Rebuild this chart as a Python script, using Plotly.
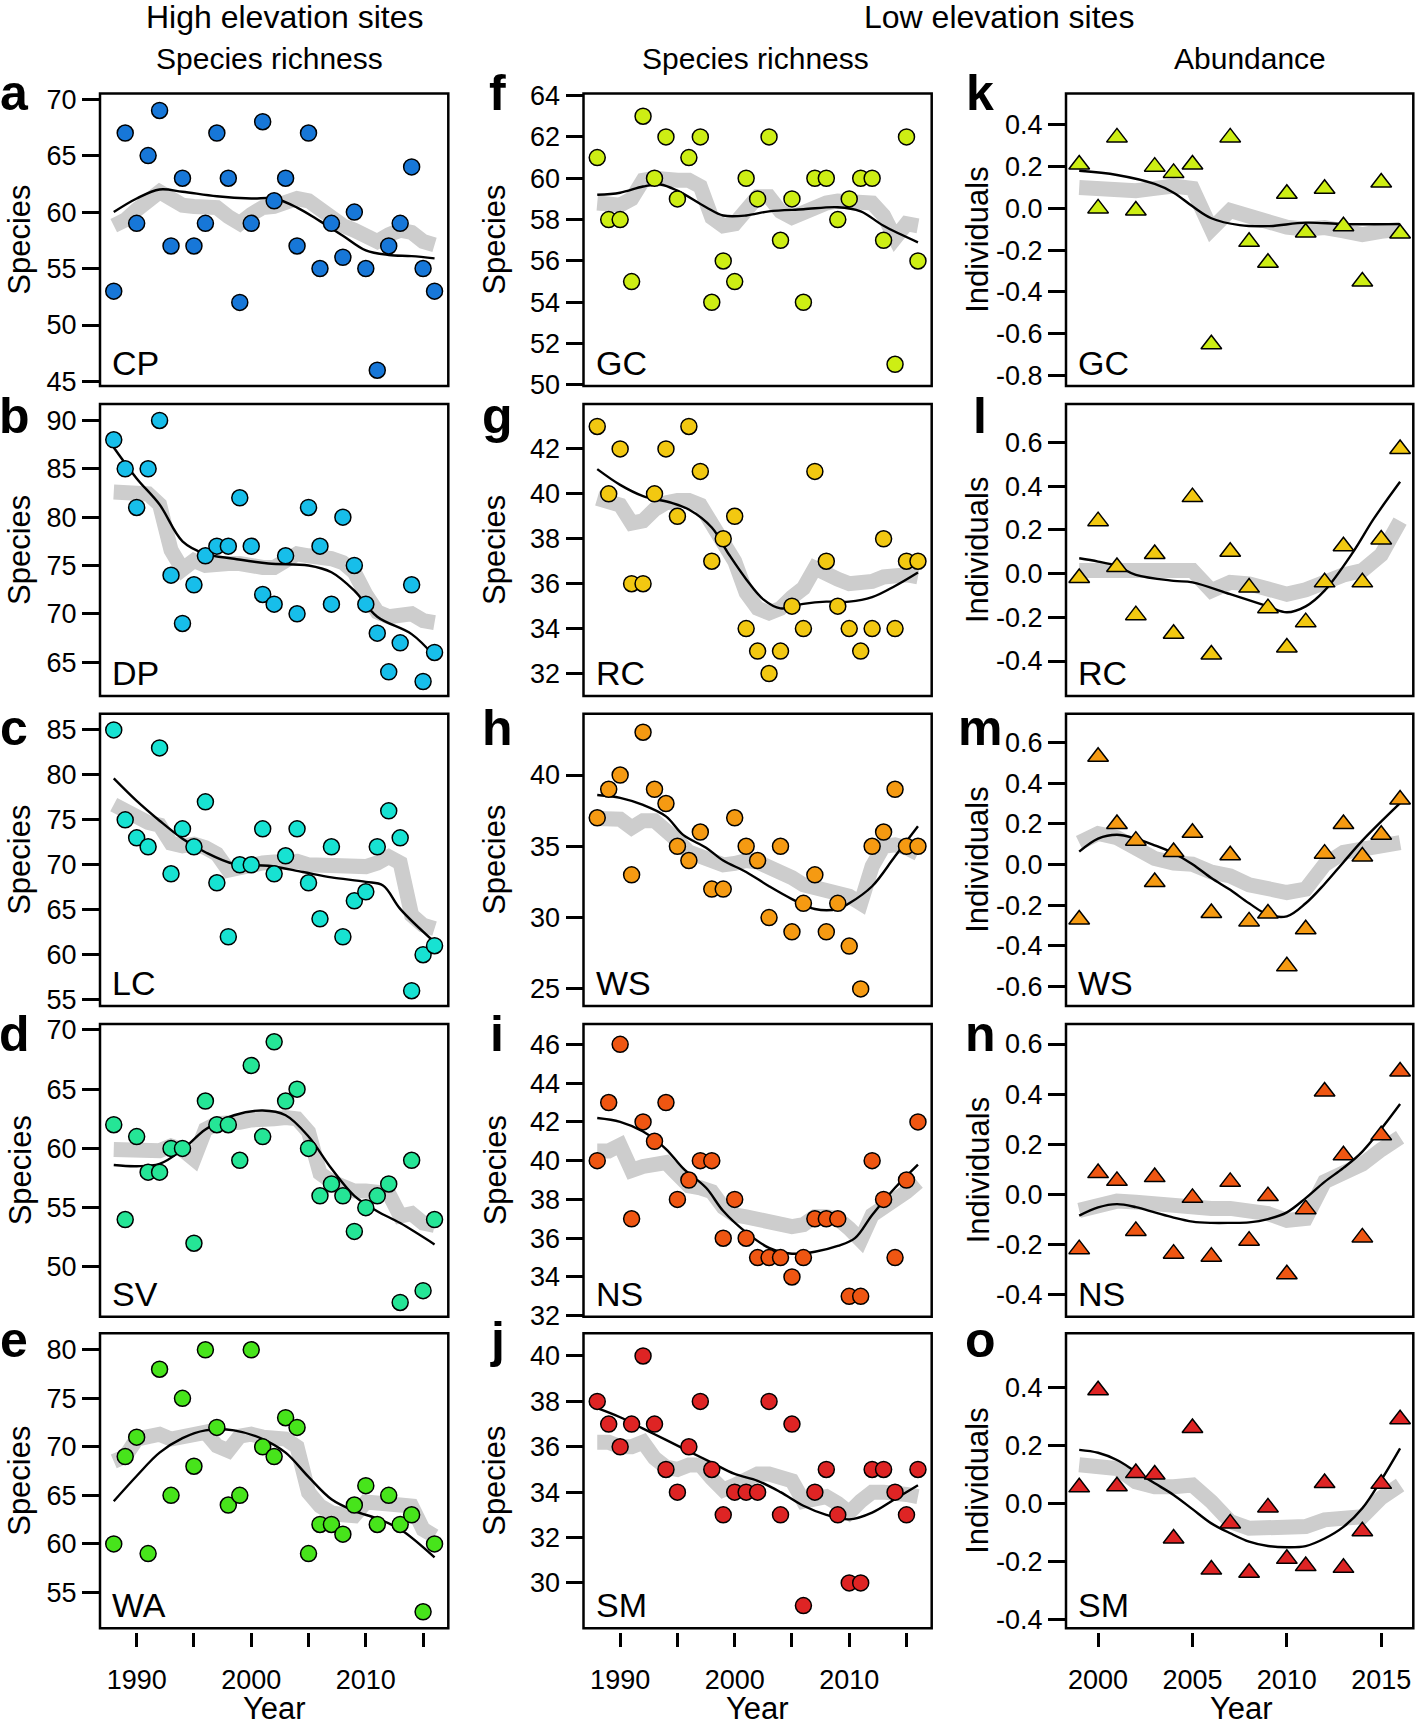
import plotly.graph_objects as go

W, H = 1415, 1727
FONT = "Liberation Sans, Arial, Helvetica, sans-serif"

# ---------------- data ----------------
years_long = list(range(1988, 2017))
years_short = list(range(1999, 2017))

# High elevation species richness
cp_pts = [53, 67, 59, 65, 69, 57, 63, 57, 59, 67, 63, 52, 59, 68, 61, 63, 57, 67, 55, 59, 56, 60, 55, 46, 57, 59, 64, 55, 53]
cp_grey = [58.8, 59.3, 60.2, 61.0, 61.8, 61.2, 60.6, 60.5, 60.5, 60.4, 59.6, 59.0, 59.8, 60.4, 60.5, 60.8, 61.2, 61.0, 60.2, 59.2, 58.8, 58.4, 58.0, 57.4, 58.0, 58.4, 58.2, 57.4, 57.1]
cp_trend_x = [1988, 1990, 1992, 1994, 1997, 2000, 2002, 2004, 2006, 2008, 2010, 2012, 2014, 2016]
cp_trend = [60.0, 61.2, 62.0, 61.8, 61.4, 61.2, 61.2, 60.4, 59.2, 57.9, 56.6, 56.2, 56.1, 55.9]

dp_pts = [88, 85, 81, 85, 90, 74, 69, 73, 76, 77, 77, 82, 77, 72, 71, 76, 70, 81, 77, 71, 80, 75, 71, 68, 64, 67, 73, 63, 66]
dp_grey = [82.6, 82.6, 82.6, 82.4, 81.3, 76.6, 74.6, 75.5, 75.0, 75.2, 75.2, 75.2, 74.8, 74.8, 74.8, 75.7, 76.2, 76.0, 76.0, 75.7, 75.3, 74.3, 72.0, 70.2, 69.7, 69.7, 70.0, 69.3, 69.1]
dp_trend_x = [1988, 1990, 1992, 1994, 1996, 1998.5, 2001.5, 2005, 2007, 2009, 2011, 2014, 2016]
dp_trend = [87.2, 84.0, 81.3, 77.5, 76.2, 75.7, 75.2, 75.0, 74.3, 72.4, 69.7, 67.9, 65.6]

lc_pts = [85, 75, 73, 72, 83, 69, 74, 72, 77, 68, 62, 70, 70, 74, 69, 71, 74, 68, 64, 72, 62, 66, 67, 72, 76, 73, 56, 60, 61]
lc_grey = [76.7, 75.9, 75.4, 74.7, 74.4, 72.4, 72.1, 72.3, 71.9, 71.2, 69.4, 69.8, 70.1, 70.2, 70.3, 70.5, 70.4, 70.0, 69.9, 69.8, 69.7, 69.6, 69.8, 70.2, 70.9, 70.2, 64.4, 63.3, 62.9]
lc_trend_x = [1988, 1990, 1992, 1994, 1996, 1998.5, 2001.5, 2004.5, 2007, 2010, 2011.5, 2013, 2016]
lc_trend = [79.6, 77.1, 74.9, 72.9, 71.4, 70.1, 69.9, 69.2, 68.6, 68.1, 67.7, 65.1, 61.4]

sv_pts = [62, 54, 61, 58, 58, 60, 60, 52, 64, 62, 62, 59, 67, 61, 69, 64, 65, 60, 56, 57, 56, 53, 55, 56, 57, 47, 59, 48, 54]
sv_grey = [59.9, 59.8, 59.7, 59.9, 59.8, 60.2, 59.9, 59.1, 61.6, 62.1, 62.0, 62.2, 62.4, 62.6, 62.5, 62.6, 62.5, 61.4, 57.9, 57.2, 56.7, 56.4, 56.4, 56.4, 56.2, 54.3, 54.5, 53.7, 53.5]
sv_trend_x = [1988, 1990, 1992, 1994, 1996, 1998.5, 2001, 2003, 2005, 2007, 2009, 2011, 2013, 2016]
sv_trend = [58.6, 58.5, 58.7, 59.9, 61.6, 62.8, 63.2, 62.8, 61.0, 58.3, 56.0, 54.7, 53.7, 51.9]

wa_pts = [60, 69, 71, 59, 78, 65, 75, 68, 80, 72, 64, 65, 80, 70, 69, 73, 72, 59, 62, 62, 61, 64, 66, 62, 65, 62, 63, 53, 60]
wa_grey = [68.5, 69.0, 70.8, 71.1, 71.3, 70.8, 71.0, 71.3, 71.5, 70.1, 69.6, 71.1, 71.3, 71.0, 70.9, 70.8, 70.0, 65.3, 63.9, 63.2, 63.0, 62.9, 64.3, 64.3, 64.2, 64.0, 63.9, 61.5, 60.8]
wa_trend_x = [1988, 1990, 1992, 1994, 1996, 1998.5, 2001, 2003, 2005, 2007, 2009, 2011, 2013, 2016]
wa_trend = [64.4, 67.0, 69.4, 70.9, 71.7, 71.7, 70.8, 69.4, 66.9, 64.6, 63.4, 62.6, 61.5, 58.6]

# Low elevation species richness
gc_pts = [61, 58, 58, 55, 63, 60, 62, 59, 61, 62, 54, 56, 55, 60, 59, 62, 57, 59, 54, 60, 60, 58, 59, 60, 60, 57, 51, 62, 56]
gc_grey = [58.8, 58.8, 58.7, 59.0, 59.9, 60.0, 59.9, 59.9, 59.9, 59.6, 58.1, 57.7, 57.8, 58.6, 59.1, 59.1, 58.4, 58.1, 58.4, 58.6, 58.8, 58.9, 58.9, 58.9, 58.8, 58.2, 57.1, 57.8, 57.7]
gc_trend_x = [1988, 1990, 1992, 1993.5, 1995, 1997.5, 1999, 2001, 2003, 2006, 2009, 2011, 2013, 2016]
gc_trend = [59.2, 59.3, 59.6, 59.7, 59.4, 58.6, 58.2, 58.2, 58.4, 58.5, 58.6, 58.4, 57.7, 56.9]

rc_pts = [43, 40, 42, 36, 36, 40, 42, 39, 43, 41, 37, 38, 39, 34, 33, 32, 33, 35, 34, 41, 37, 35, 34, 33, 34, 38, 34, 37, 37]
rc_grey = [39.8, 39.7, 39.5, 38.7, 38.8, 39.3, 39.6, 39.7, 39.7, 39.5, 38.6, 37.8, 37.0, 35.6, 34.9, 34.7, 34.9, 35.4, 35.8, 36.7, 36.4, 36.2, 36.0, 36.0, 36.1, 36.3, 36.4, 36.4, 36.3]
rc_trend_x = [1988, 1990, 1992, 1994.5, 1996, 1998, 1999.5, 2001, 2002.5, 2004, 2006, 2008, 2010, 2012, 2014, 2016]
rc_trend = [41.1, 40.4, 39.9, 39.6, 39.3, 38.5, 37.3, 36.2, 35.3, 34.9, 35.1, 35.2, 35.2, 35.4, 35.9, 36.5]

ws_pts = [37, 39, 40, 33, 43, 39, 38, 35, 34, 36, 32, 32, 37, 35, 34, 30, 35, 29, 31, 33, 29, 31, 28, 25, 35, 36, 39, 35, 35]
ws_grey = [36.95, 36.9, 36.9, 36.3, 36.8, 36.8, 36.2, 35.4, 34.6, 34.3, 34.0, 33.7, 33.8, 34.0, 33.9, 33.6, 33.2, 32.8, 32.3, 32.1, 31.9, 31.6, 31.5, 31.0, 33.6, 35.0, 35.1, 34.9, 34.5]
ws_trend_x = [1988, 1990, 1992, 1994, 1995.5, 1997.5, 1999, 2001, 2003, 2005, 2007, 2009, 2010, 2012, 2014, 2016]
ws_trend = [38.6, 38.4, 37.9, 37.1, 35.8, 34.9, 34.0, 33.2, 32.2, 31.3, 30.6, 30.6, 31.0, 32.2, 34.3, 36.4]

ns_pts = [40, 43, 46, 37, 42, 41, 43, 38, 39, 40, 40, 36, 38, 36, 35, 35, 35, 34, 35, 37, 37, 37, 33, 33, 40, 38, 35, 39, 42]
ns_grey = [40.5, 40.5, 40.8, 39.5, 39.7, 39.8, 39.9, 39.3, 38.7, 38.6, 38.4, 37.6, 37.2, 37.1, 37.0, 36.8, 36.7, 36.6, 36.7, 37.1, 37.1, 37.0, 36.5, 35.9, 37.2, 37.6, 37.8, 38.4, 38.9]
ns_trend_x = [1988, 1990, 1992, 1994, 1995.5, 1997.5, 1999, 2001, 2003, 2005, 2007, 2009, 2010.5, 2012, 2014, 2016]
ns_trend = [42.2, 42.0, 41.5, 40.6, 39.6, 38.6, 37.4, 36.3, 35.5, 35.2, 35.3, 35.6, 36.0, 37.2, 38.6, 39.8]

sm_pts = [38, 37, 36, 37, 40, 37, 35, 34, 36, 38, 35, 33, 34, 34, 34, 38, 33, 37, 29, 34, 35, 33, 30, 30, 35, 35, 34, 33, 35]
sm_grey = [36.2, 36.2, 36.0, 36.0, 36.2, 35.5, 35.1, 35.0, 35.2, 35.2, 34.6, 34.1, 34.3, 34.5, 34.8, 34.8, 34.7, 34.5, 33.6, 33.7, 33.8, 33.5, 33.1, 33.6, 34.0, 34.0, 34.0, 33.9, 33.8]
sm_trend_x = [1988, 1990, 1992, 1994, 1996, 1998, 2000, 2002, 2004, 2006, 2008, 2010, 2012, 2014, 2016]
sm_trend = [37.7, 37.3, 36.8, 36.3, 35.8, 35.3, 34.8, 34.5, 34.0, 33.4, 33.0, 32.8, 33.1, 33.7, 34.3]

# Low elevation abundance
gc_ab_pts = [0.21, 0.0, 0.34, -0.01, 0.2, 0.17, 0.21, -0.65, 0.34, -0.16, -0.26, 0.07, -0.115, 0.094, -0.085, -0.35, 0.124, -0.12]
gc_ab_grey = [0.10, 0.092, 0.08, 0.085, 0.096, 0.107, 0.096, -0.10, -0.01, -0.04, -0.06, -0.09, -0.10, -0.092, -0.107, -0.125, -0.11, -0.10]
gc_ab_trend_x = [1999, 2001, 2003, 2004, 2005, 2006, 2007.5, 2009, 2011, 2013, 2016]
gc_ab_trend = [0.18, 0.16, 0.117, 0.075, 0.01, -0.047, -0.08, -0.085, -0.068, -0.075, -0.075]

rc_ab_pts = [-0.02, 0.24, 0.03, -0.19, 0.09, -0.275, 0.35, -0.37, 0.1, -0.064, -0.158, -0.338, -0.222, -0.04, 0.125, -0.04, 0.156, 0.57]
rc_ab_grey = [0.014, 0.014, 0.004, 0.0, -0.002, 0.0, 0.014, -0.078, -0.04, -0.047, -0.078, -0.094, -0.074, -0.037, -0.006, 0.014, 0.086, 0.24]
rc_ab_trend_x = [1999, 2000, 2001, 2002, 2004, 2005, 2007, 2009, 2010, 2011, 2012, 2013.5, 2014.6, 2016]
rc_ab_trend = [0.07, 0.055, 0.035, -0.006, -0.033, -0.04, -0.094, -0.15, -0.177, -0.15, -0.078, 0.097, 0.25, 0.42]

ws_ab_pts = [-0.27, 0.53, 0.2, 0.118, -0.085, 0.062, 0.157, -0.238, 0.046, -0.279, -0.24, -0.5, -0.318, 0.054, 0.2, 0.04, 0.147, 0.32]
ws_ab_grey = [0.108, 0.153, 0.133, 0.089, 0.03, 0.008, 0.002, -0.037, -0.056, -0.099, -0.124, -0.137, -0.12, 0.0, 0.06, 0.07, 0.089, 0.108]
ws_ab_trend_x = [1999, 2000, 2001, 2002, 2003, 2004, 2005, 2006, 2007, 2008, 2009, 2010, 2011, 2012, 2013, 2014, 2016]
ws_ab_trend = [0.064, 0.128, 0.147, 0.128, 0.095, 0.056, 0.002, -0.066, -0.124, -0.19, -0.246, -0.254, -0.19, -0.095, 0.012, 0.118, 0.302]

ns_ab_pts = [-0.22, 0.084, 0.053, -0.147, 0.068, -0.238, -0.015, -0.25, 0.049, -0.186, -0.008, -0.32, -0.06, 0.41, 0.155, -0.173, 0.235, 0.49]
ns_ab_grey = [-0.065, -0.04, -0.028, -0.032, -0.04, -0.049, -0.057, -0.057, -0.057, -0.061, -0.078, -0.105, -0.097, 0.05, 0.089, 0.12, 0.178, 0.227]
ns_ab_trend_x = [1999, 2000, 2001, 2002, 2003, 2004, 2005, 2006, 2007, 2008, 2009, 2010, 2011, 2012, 2013, 2014, 2016]
ns_ab_trend = [-0.086, -0.053, -0.04, -0.052, -0.073, -0.094, -0.11, -0.115, -0.115, -0.113, -0.1, -0.073, -0.016, 0.049, 0.105, 0.17, 0.36]

sm_ab_pts = [0.056, 0.39, 0.06, 0.105, 0.1, -0.12, 0.26, -0.227, -0.068, -0.238, -0.013, -0.19, -0.215, 0.071, -0.221, -0.095, 0.068, 0.29]
sm_ab_grey = [0.134, 0.127, 0.121, 0.075, 0.058, 0.058, 0.064, 0.007, -0.062, -0.085, -0.085, -0.09, -0.079, -0.056, -0.05, -0.045, 0.02, 0.064]
sm_ab_trend_x = [1999, 2000, 2001, 2002, 2003, 2004, 2005, 2006, 2007, 2008, 2009, 2010, 2011, 2012, 2013, 2014, 2015, 2016]
sm_ab_trend = [0.185, 0.175, 0.15, 0.11, 0.07, 0.03, -0.019, -0.068, -0.102, -0.131, -0.146, -0.15, -0.146, -0.12, -0.08, -0.016, 0.081, 0.19]

# tick values / labels
ticks_cp = [45, 50, 55, 60, 65, 70]
ticks_dp = [65, 70, 75, 80, 85, 90]
ticks_lc = [55, 60, 65, 70, 75, 80, 85]
ticks_sv = [50, 55, 60, 65, 70]
ticks_wa = [55, 60, 65, 70, 75, 80]
ticks_gc = [50, 52, 54, 56, 58, 60, 62, 64]
ticks_rc = [32, 34, 36, 38, 40, 42]
ticks_ws = [25, 30, 35, 40]
ticks_ns = [32, 34, 36, 38, 40, 42, 44, 46]
ticks_sm = [30, 32, 34, 36, 38, 40]
ticks_gc_ab = ["-0.8", "-0.6", "-0.4", "-0.2", "0.0", "0.2", "0.4"]
ticks_rc_ab = ["-0.4", "-0.2", "0.0", "0.2", "0.4", "0.6"]
ticks_ws_ab = ["-0.6", "-0.4", "-0.2", "0.0", "0.2", "0.4", "0.6"]
ticks_ns_ab = ["-0.4", "-0.2", "0.0", "0.2", "0.4", "0.6"]
ticks_sm_ab = ["-0.4", "-0.2", "0.0", "0.2", "0.4"]

year_ticks_long = [1990, 1995, 2000, 2005, 2010, 2015]
year_labels_long = ["1990", "", "2000", "", "2010", ""]
year_ticks_short = [2000, 2005, 2010, 2015]
year_labels_short = ["2000", "2005", "2010", "2015"]

# ---------------- panel specs ----------------
C_A, C_B, C_C, C_D, C_E = "#1777D8", "#17BEEA", "#17E2D2", "#25E596", "#47E41B"
C_F, C_G, C_H, C_I, C_J = "#CDEE14", "#F2C811", "#F59A12", "#EF5612", "#DE2424"

panels = [
    # (letter, site, col, row, pts, grey, trend_x, trend, color, yrange, ticks)
    ("a", "CP", 0, 0, cp_pts, cp_grey, cp_trend_x, cp_trend, C_A, [44.6, 70.5], ticks_cp),
    ("b", "DP", 0, 1, dp_pts, dp_grey, dp_trend_x, dp_trend, C_B, [61.5, 91.7], ticks_dp),
    ("c", "LC", 0, 2, lc_pts, lc_grey, lc_trend_x, lc_trend, C_C, [54.3, 86.8], ticks_lc),
    ("d", "SV", 0, 3, sv_pts, sv_grey, sv_trend_x, sv_trend, C_D, [45.8, 70.5], ticks_sv),
    ("e", "WA", 0, 4, wa_pts, wa_grey, wa_trend_x, wa_trend, C_E, [51.3, 81.7], ticks_wa),
    ("f", "GC", 1, 0, gc_pts, gc_grey, gc_trend_x, gc_trend, C_F, [49.95, 64.1], ticks_gc),
    ("g", "RC", 1, 1, rc_pts, rc_grey, rc_trend_x, rc_trend, C_G, [31.0, 44.0], ticks_rc),
    ("h", "WS", 1, 2, ws_pts, ws_grey, ws_trend_x, ws_trend, C_H, [23.8, 44.3], ticks_ws),
    ("i", "NS", 1, 3, ns_pts, ns_grey, ns_trend_x, ns_trend, C_I, [31.95, 47.05], ticks_ns),
    ("j", "SM", 1, 4, sm_pts, sm_grey, sm_trend_x, sm_trend, C_J, [28.0, 41.0], ticks_sm),
    ("k", "GC", 2, 0, gc_ab_pts, gc_ab_grey, gc_ab_trend_x, gc_ab_trend, C_F, [-0.85, 0.55], ticks_gc_ab),
    ("l", "RC", 2, 1, rc_ab_pts, rc_ab_grey, rc_ab_trend_x, rc_ab_trend, C_G, [-0.56, 0.776], ticks_rc_ab),
    ("m", "WS", 2, 2, ws_ab_pts, ws_ab_grey, ws_ab_trend_x, ws_ab_trend, C_H, [-0.695, 0.742], ticks_ws_ab),
    ("n", "NS", 2, 3, ns_ab_pts, ns_ab_grey, ns_ab_trend_x, ns_ab_trend, C_I, [-0.49, 0.68], ticks_ns_ab),
    ("o", "SM", 2, 4, sm_ab_pts, sm_ab_grey, sm_ab_trend_x, sm_ab_trend, C_J, [-0.429, 0.586], ticks_sm_ab),
]

# ---------------- layout geometry (pixels) ----------------
cols = [(100, 448.3), (583.5, 931.7), (1066, 1413.3)]
rows = [(93.5, 386), (404, 696), (713.7, 1006), (1024, 1316.7), (1333.3, 1628.3)]
letter_x = [14, 497, 980]
letter_base = [110, 433, 745, 1051, 1357]
ytitle_x = [20, 495, 978]
LETTER_SIZE = 50


def px_x(x):
    return x / W


def px_y(y):
    return 1 - y / H


fig = go.Figure()
layout = dict(
    width=W, height=H, margin=dict(l=0, r=0, t=0, b=0, pad=0), autosize=False,
    paper_bgcolor="white", plot_bgcolor="white", showlegend=False,
    font=dict(family=FONT, color="black"),
)
shapes = []
annotations = []

for n, (letter, site, c, r, pts, grey, tx, tv, color, yr, ticks) in enumerate(panels, start=1):
    xs = years_short if c == 2 else years_long
    sfx = "" if n == 1 else str(n)
    xa, ya = "x" + sfx, "y" + sfx
    fig.add_trace(go.Scatter(x=xs, y=grey, mode="lines", xaxis=xa, yaxis=ya,
                             line=dict(color="#cdcdcd", width=15), hoverinfo="skip"))
    fig.add_trace(go.Scatter(x=tx, y=tv, mode="lines", xaxis=xa, yaxis=ya,
                             line=dict(color="black", width=2.4, shape="spline", smoothing=1.0)))
    if c == 2:
        mk = dict(symbol="triangle-up", size=18, color=color, line=dict(color="black", width=1.5))
    else:
        mk = dict(symbol="circle", size=16, color=color, line=dict(color="black", width=1.5))
    fig.add_trace(go.Scatter(x=xs, y=pts, mode="markers", xaxis=xa, yaxis=ya, marker=mk))

    left, right = cols[c]
    top, bottom = rows[r]
    xkey, ykey = "xaxis" + sfx, "yaxis" + sfx
    xrange = [1998.3, 2016.7] if c == 2 else [1986.8, 2017.2]
    xax = dict(domain=[px_x(left), px_x(right)], range=xrange, showgrid=False, zeroline=False,
               showline=False, fixedrange=True, automargin=False)
    if r == 4:
        xax.update(anchor="free", position=px_y(bottom + 4), ticks="outside", ticklen=14, tickwidth=2.5,
                   tickcolor="black",
                   tickvals=year_ticks_short if c == 2 else year_ticks_long,
                   ticktext=year_labels_short if c == 2 else year_labels_long,
                   tickfont=dict(size=27, family=FONT, color="black"), ticklabelstandoff=9)
    else:
        xax.update(anchor=ya, showticklabels=False, ticks="")
    layout[xkey] = xax

    if c == 2:
        tvals = [float(t) for t in ticks]
        ttext = ticks
    else:
        tvals = ticks
        ttext = [str(t) for t in ticks]
    layout[ykey] = dict(domain=[px_y(bottom), px_y(top)], anchor=xa, range=yr, showgrid=False,
                        zeroline=False, showline=False, ticks="outside", ticklen=17, tickwidth=2.5,
                        tickcolor="black", tickvals=tvals, ticktext=ttext, automargin=False,
                        tickfont=dict(size=27, family=FONT, color="black"), fixedrange=True)

    shapes.append(dict(type="rect", xref=f"{xa} domain", yref=f"{ya} domain", x0=0, x1=1, y0=0, y1=1,
                       line=dict(color="black", width=2.5), layer="above"))

    # panel letter
    annotations.append(dict(text=f"<b>{letter}</b>", xref="paper", yref="paper",
                            x=px_x(letter_x[c]), y=px_y(letter_base[r] - 0.35 * LETTER_SIZE),
                            xanchor="center", yanchor="middle", showarrow=False,
                            font=dict(size=LETTER_SIZE, family=FONT, color="black")))
    # site label
    annotations.append(dict(text=site, xref=f"{xa} domain", yref=f"{ya} domain", x=0, y=0,
                            xanchor="left", yanchor="middle", xshift=10, yshift=23, showarrow=False,
                            font=dict(size=34, family=FONT, color="black")))
    # y title
    annotations.append(dict(text="Individuals" if c == 2 else "Species", xref="paper", yref="paper",
                            x=px_x(ytitle_x[c]), y=px_y((top + bottom) / 2), textangle=-90,
                            xanchor="center", yanchor="middle", showarrow=False,
                            font=dict(size=31, family=FONT, color="black")))

# column headers
for txt, x, y, s in [("High elevation sites", 284, 17, 32), ("Low elevation sites", 999, 17, 32),
                     ("Species richness", 269, 58.5, 30), ("Species richness", 755, 58.5, 30),
                     ("Abundance", 1249.5, 58.5, 30)]:
    annotations.append(dict(text=txt, xref="paper", yref="paper", x=px_x(x), y=px_y(y),
                            xanchor="center", yanchor="middle", showarrow=False,
                            font=dict(size=s, family=FONT, color="black")))
# x titles
for x in [274, 757, 1241]:
    annotations.append(dict(text="Year", xref="paper", yref="paper", x=px_x(x), y=px_y(1708),
                            xanchor="center", yanchor="middle", showarrow=False,
                            font=dict(size=31, family=FONT, color="black")))

layout["shapes"] = shapes
layout["annotations"] = annotations
fig.update_layout(**layout)
fig.write_html("out.html", config={"displayModeBar": False},
               post_script="document.body.style.margin='0px';document.body.style.padding='0px';"
                           "document.body.style.overflow='hidden';")
